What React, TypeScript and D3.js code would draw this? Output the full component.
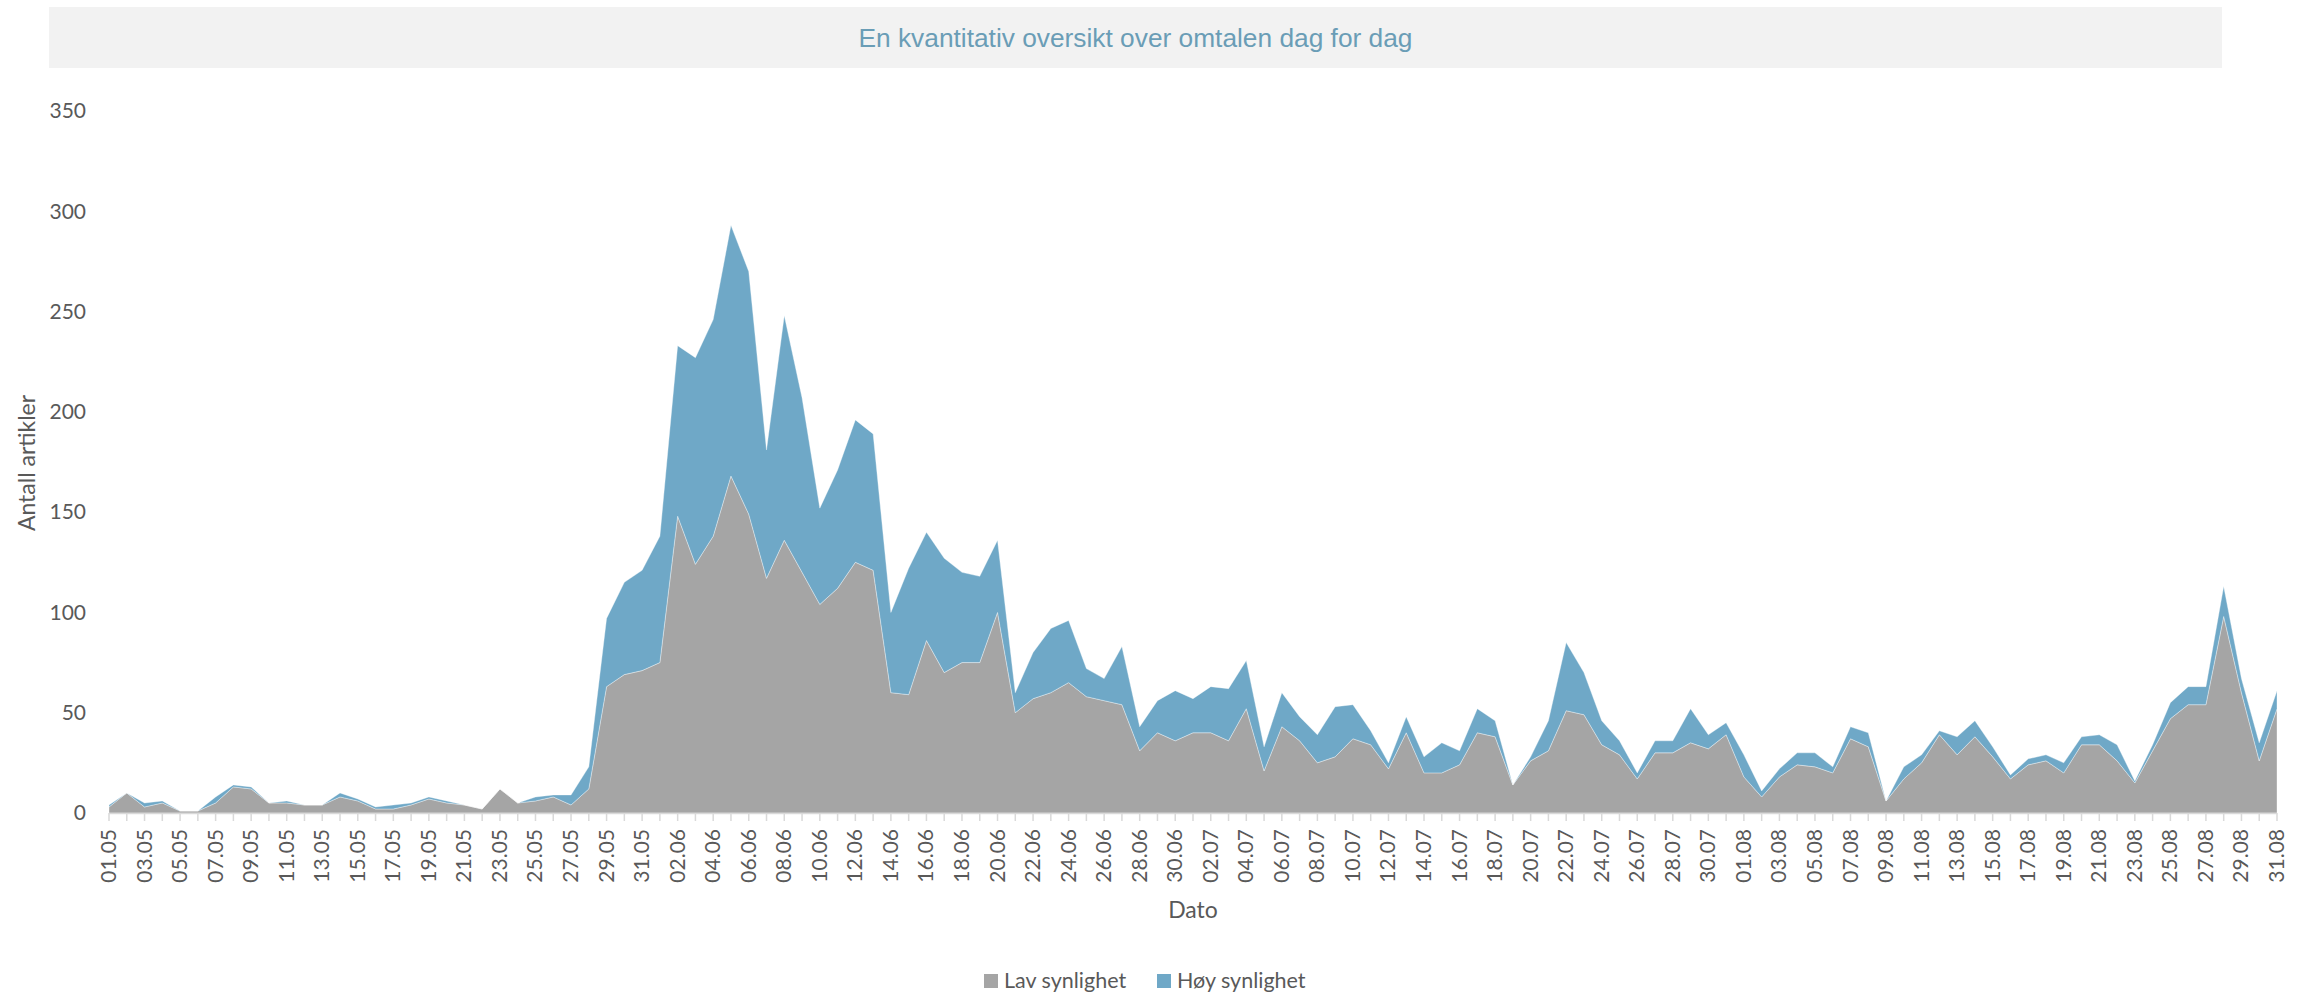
import React from "react";
import * as d3 from "d3";

const dates: string[] = [
  "01.05","02.05","03.05","04.05","05.05","06.05","07.05","08.05","09.05","10.05",
  "11.05","12.05","13.05","14.05","15.05","16.05","17.05","18.05","19.05","20.05",
  "21.05","22.05","23.05","24.05","25.05","26.05","27.05","28.05","29.05","30.05","31.05",
  "01.06","02.06","03.06","04.06","05.06","06.06","07.06","08.06","09.06","10.06",
  "11.06","12.06","13.06","14.06","15.06","16.06","17.06","18.06","19.06","20.06",
  "21.06","22.06","23.06","24.06","25.06","26.06","27.06","28.06","29.06","30.06",
  "01.07","02.07","03.07","04.07","05.07","06.07","07.07","08.07","09.07","10.07",
  "11.07","12.07","13.07","14.07","15.07","16.07","17.07","18.07","19.07","20.07",
  "21.07","22.07","23.07","24.07","25.07","26.07","27.07","28.07","29.07","30.07","31.07",
  "01.08","02.08","03.08","04.08","05.08","06.08","07.08","08.08","09.08","10.08",
  "11.08","12.08","13.08","14.08","15.08","16.08","17.08","18.08","19.08","20.08",
  "21.08","22.08","23.08","24.08","25.08","26.08","27.08","28.08","29.08","30.08","31.08",
];

const lavSynlighet: number[] = [
  3, 10, 3, 5, 1, 1, 5, 13, 12, 5,
  5, 4, 4, 8, 6, 2, 2, 4, 7, 5,
  4, 2, 12, 5, 6, 8, 4, 12, 63, 69, 71,
  75, 148, 124, 138, 168, 149, 117, 136, 120, 104,
  112, 125, 121, 60, 59, 86, 70, 75, 75, 100,
  50, 57, 60, 65, 58, 56, 54, 31, 40, 36,
  40, 40, 36, 52, 21, 43, 36, 25, 28, 37,
  34, 22, 40, 20, 20, 24, 40, 38, 14, 26,
  31, 51, 49, 34, 29, 17, 30, 30, 35, 32, 39,
  18, 8, 18, 24, 23, 20, 37, 33, 6, 17,
  25, 39, 29, 38, 28, 17, 24, 26, 20, 34,
  34, 26, 15, 31, 47, 54, 54, 98, 60, 26, 52,
];

const hoySynlighet: number[] = [
  1, 0, 2, 1, 0, 0, 3, 1, 1, 0,
  1, 0, 0, 2, 1, 1, 2, 1, 1, 1,
  0, 0, 0, 0, 2, 1, 5, 11, 34, 46, 50,
  63, 85, 103, 108, 125, 121, 64, 112, 87, 48,
  59, 71, 68, 40, 63, 54, 57, 45, 43, 36,
  10, 23, 32, 31, 14, 11, 29, 12, 16, 25,
  17, 23, 26, 24, 12, 17, 12, 14, 25, 17,
  7, 3, 8, 8, 15, 7, 12, 8, 0, 2,
  15, 34, 21, 12, 7, 3, 6, 6, 17, 7, 6,
  11, 3, 4, 6, 7, 3, 6, 7, 0, 6,
  4, 2, 9, 8, 5, 2, 3, 3, 5, 4,
  5, 8, 1, 3, 8, 9, 9, 15, 7, 9, 9,
];

const yTicks: number[] = [0, 50, 100, 150, 200, 250, 300, 350];
const seriesNames: string[] = ["Lav synlighet", "Høy synlighet"];
const seriesColors: string[] = ["#a5a5a5", "#6fa8c7"];
const titleText = "En kvantitativ oversikt over omtalen dag for dag";
const xTitle = "Dato";
const yTitle = "Antall artikler";

const W = 2312;
const H = 993;
const left = 109;
const right = 2277;
const top = 111;
const bottom = 813;

const labelFont = "Lato, 'Open Sans', sans-serif";
const textColor = "#595959";

export default function App() {
  const rows = dates.map((d, i) => ({
    date: d,
    lav: lavSynlighet[i],
    hoy: hoySynlighet[i],
  }));
  const stacked = d3.stack<any>().keys(["lav", "hoy"])(rows);

  const x = d3.scalePoint<string>().domain(dates).range([left, right]);
  const y = d3.scaleLinear().domain([0, 350]).range([bottom, top]);

  const area = d3
    .area<any>()
    .x((d: any) => x(d.data.date) as number)
    .y0((d: any) => y(d[0]))
    .y1((d: any) => y(d[1]))
    .curve(d3.curveLinear);

  return (
    <svg
      width={W}
      height={H}
      style={{ position: "absolute", left: 0, top: 0, background: "#fff" }}
    >
      <rect x={49} y={7} width={2173} height={61} fill="#f2f2f2" />
      <text
        x={1135.5}
        y={47}
        textAnchor="middle"
        fontFamily="'Liberation Sans', Arial, sans-serif"
        fontSize={26.3}
        fill="#6a9db6"
      >
        {titleText}
      </text>

      {stacked.map((s, i) => (
        <path
          key={s.key}
          d={area(s as any) || ""}
          fill={seriesColors[i]}
          stroke="#ffffff"
          strokeOpacity={0.45}
          strokeWidth={0.8}
        />
      ))}

      {/* y tick labels */}
      {yTicks.map((t) => (
        <text
          key={t}
          x={86}
          y={y(t)}
          dy="0.35em"
          textAnchor="end"
          fontFamily={labelFont}
          fontSize={21}
          fill={textColor}
        >
          {t}
        </text>
      ))}

      {/* x axis */}
      <line x1={left} x2={right} y1={bottom + 0.5} y2={bottom + 0.5} stroke="#d9d9d9" strokeWidth={1.5} />
      {dates.map((d) => (
        <line
          key={"t" + d}
          x1={x(d)}
          x2={x(d)}
          y1={bottom}
          y2={bottom + 8}
          stroke="#d9d9d9"
          strokeWidth={1.5}
        />
      ))}
      {dates.map((d, i) =>
        i % 2 === 0 ? (
          <text
            key={"l" + d}
            transform={`translate(${(x(d) as number) + 7},${829}) rotate(-90)`}
            textAnchor="end"
            fontFamily={labelFont}
            fontSize={21}
            fill={textColor}
          >
            {d}
          </text>
        ) : null
      )}

      <text
        x={1193}
        y={918}
        textAnchor="middle"
        fontFamily={labelFont}
        fontSize={23}
        fill={textColor}
      >
        {xTitle}
      </text>
      <text
        transform={`translate(35,463) rotate(-90)`}
        textAnchor="middle"
        fontFamily={labelFont}
        fontSize={23}
        fill={textColor}
      >
        {yTitle}
      </text>

      {/* legend */}
      {seriesNames.map((n, i) => {
        const lx = i === 0 ? 984 : 1157;
        return (
          <g key={n}>
            <rect x={lx} y={974} width={14} height={14} fill={seriesColors[i]} />
            <text
              x={lx + 20}
              y={988}
              fontFamily={labelFont}
              fontSize={21.5}
              fill={textColor}
            >
              {n}
            </text>
          </g>
        );
      })}
    </svg>
  );
}
